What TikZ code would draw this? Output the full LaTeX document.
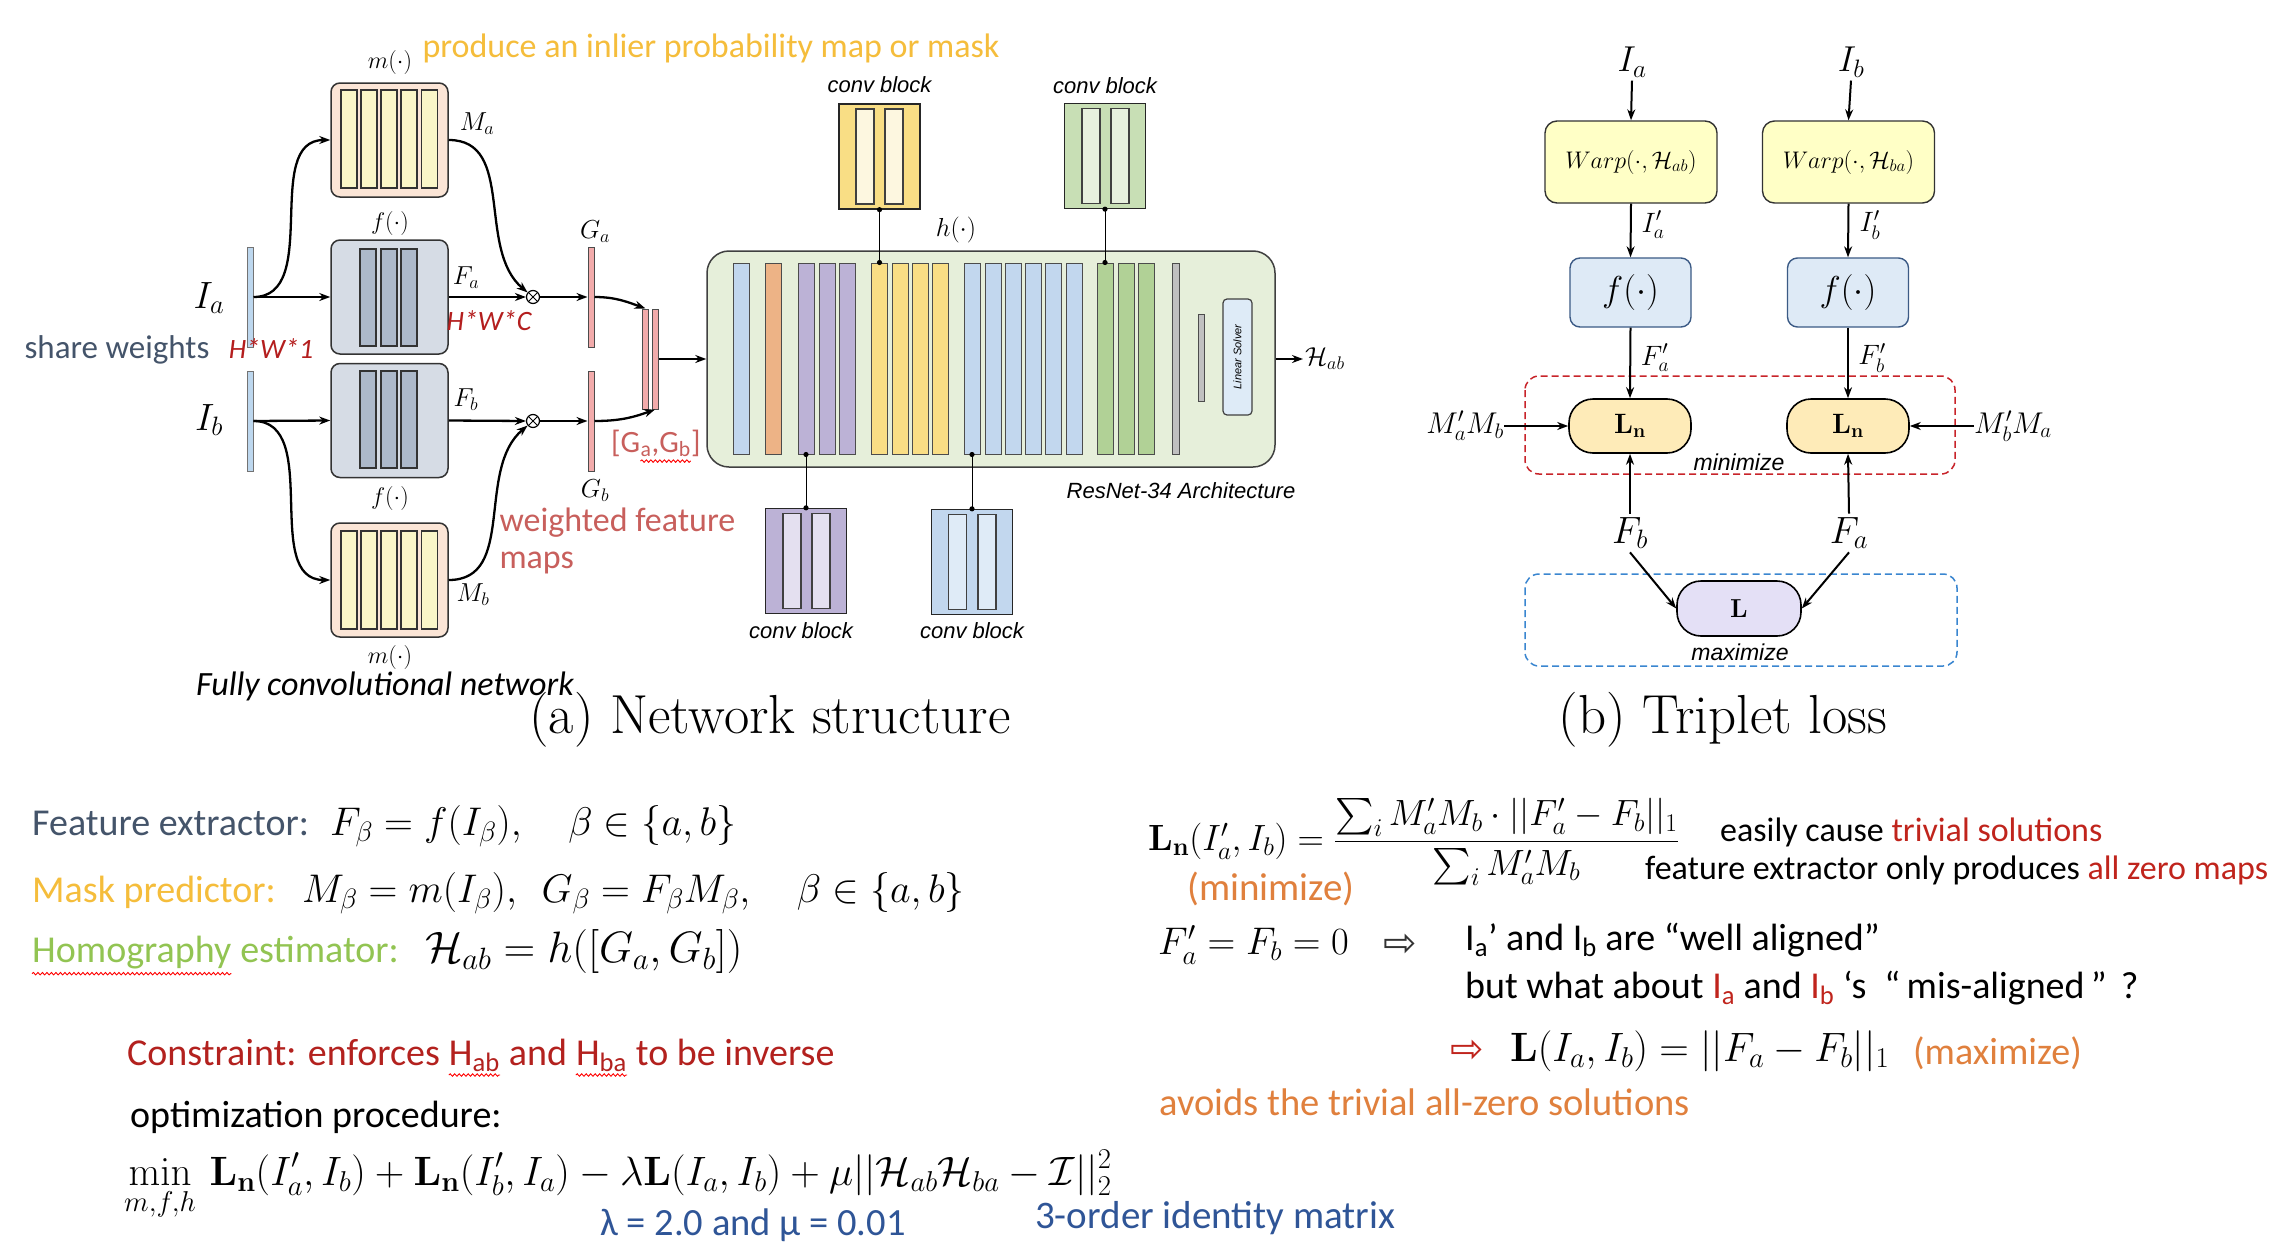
\RequirePackage{fix-cm}
\documentclass[tikz,border=0pt]{standalone}
\usepackage{amsmath,amssymb}
\usepackage[no-math]{fontspec}
\setmainfont{Carlito}
\newfontfamily\helv{Liberation Sans}
\newfontfamily\lmr{Latin Modern Roman}
\newfontfamily\dejavu{DejaVu Sans}
\usetikzlibrary{arrows.meta,decorations.pathmorphing,calc}
\newcommand\fsz[1]{\fontsize{#1}{#1}\selectfont}
\definecolor{slate}{HTML}{44546A}
\definecolor{gold}{HTML}{F5BD3B}
\definecolor{hgreen}{HTML}{92C452}
\definecolor{dred}{HTML}{B3211E}
\definecolor{tred}{HTML}{C0241C}
\definecolor{pinkred}{HTML}{C85F5C}
\definecolor{lblue}{HTML}{2F5597}
\definecolor{ora}{HTML}{E0803D}
\definecolor{hwred}{HTML}{B41E1E}
\definecolor{peach}{HTML}{FBE5D6}
\definecolor{mbar}{HTML}{FAF6C8}
\definecolor{fboxc}{HTML}{D6DCE5}
\definecolor{fbar}{HTML}{ADB9CA}
\definecolor{inbar}{HTML}{BDD7EE}
\definecolor{gbar}{HTML}{F2ABAB}
\definecolor{resbg}{HTML}{E6EFDA}
\definecolor{cblue}{HTML}{C2D7EE}
\definecolor{corange}{HTML}{EDB386}
\definecolor{cpurple}{HTML}{BCB2D6}
\definecolor{cyellow}{HTML}{F9DE85}
\definecolor{cgreen}{HTML}{B1D196}
\definecolor{cgray}{HTML}{C0C0C0}
\definecolor{lsolv}{HTML}{DEEBF7}
\definecolor{cyinner}{HTML}{FDF7E0}
\definecolor{cginner}{HTML}{E7F0DE}
\definecolor{cpinner}{HTML}{E4E0F0}
\definecolor{cbinner}{HTML}{DFEBF7}
\definecolor{warpc}{HTML}{FFFFC6}
\definecolor{fblue}{HTML}{DEEAF6}
\definecolor{fborder}{HTML}{3B5A85}
\definecolor{lnfill}{HTML}{FEEBB8}
\definecolor{lfill}{HTML}{E4E0F6}
\definecolor{dashred}{HTML}{C8242A}
\definecolor{dashblue}{HTML}{3A86D0}
\begin{document}
\begin{tikzpicture}[x=1pt,y=-1pt,
  arr/.style={line width=2.3pt,-{Stealth[length=11pt,width=8pt]}},
  tarr/.style={line width=2pt,-{Stealth[length=11pt,width=8pt]}},
  bigbox/.style={draw=black!80,line width=1.5pt,rounded corners=9pt,minimum width=117pt,minimum height=114pt,inner sep=0pt},
  mbarS/.style={draw=black!80,line width=1.2pt,fill=mbar,minimum width=16pt,minimum height=98pt,inner sep=0pt},
  fbarS/.style={draw=black!80,line width=1.2pt,fill=fbar,minimum width=16pt,minimum height=97pt,inner sep=0pt},
  thinbar/.style={line width=1pt,minimum width=6pt,minimum height=100pt,inner sep=0pt},
  rbar/.style={draw=black!70,line width=1pt,minimum width=16pt,minimum height=191pt,inner sep=0pt},
  cbox/.style={draw=black!85,line width=1.3pt,minimum width=81pt,minimum height=105pt,inner sep=0pt},
  cin/.style={draw=black!75,line width=1.1pt,minimum width=18pt,minimum height=95pt,inner sep=0pt},
  cblab/.style={font=\helv\itshape\fsz{22}},
  otimes/.style={circle,draw,line width=1.2pt,minimum size=13pt,inner sep=0pt,path picture={\draw[line width=1pt] (path picture bounding box.north west)--(path picture bounding box.south east) (path picture bounding box.north east)--(path picture bounding box.south west);}},
  conn/.style={line width=1pt},
  lab/.style={inner sep=1pt},
  chain/.style={anchor=base west,inner sep=0pt},
  wavy/.style={red,line width=0.9pt,decorate,decoration={snake,amplitude=1.2pt,segment length=4.5pt}}
]
\useasboundingbox (0,0) rectangle (2270,1242);
\fill[white] (0,0) rectangle (2270,1242);

% ================= (a) left part =================
\node[anchor=west,font=\fsz{34},text=gold] (prod) at (419,48) {produce an inlier probability map or mask};

\node[bigbox,fill=peach] (ma) at (389.5,140) {};
\foreach \i/\x in {1/349,2/369,3/389,4/409,5/429.5} \node[mbarS] (ma\i) at (\x,139) {};
\node[bigbox,fill=fboxc] (fa) at (389.5,297) {};
\foreach \i/\x in {1/368,2/389,3/409} \node[fbarS] (fa\i) at (\x,297.5) {};
\node[bigbox,fill=fboxc] (fb) at (389.5,420.5) {};
\foreach \i/\x in {1/368,2/389,3/409} \node[fbarS] (fb\i) at (\x,419.5) {};
\node[bigbox,fill=peach] (mb) at (389.5,580) {};
\foreach \i/\x in {1/349,2/369,3/389,4/409,5/429.5} \node[mbarS] (mb\i) at (\x,580) {};

\node[lab,font=\fsz{24}] (lm1) at (390,62) {$m(\cdot)$};
\node[lab,font=\fsz{24}] (lf1) at (390,223) {$f(\cdot)$};
\node[lab,font=\fsz{24}] (lf2) at (390,498) {$f(\cdot)$};
\node[lab,font=\fsz{24}] (lm2) at (390,657) {$m(\cdot)$};
\node[lab,font=\fsz{26}] (lMa) at (477,124) {$M_a$};
\node[lab,font=\fsz{26}] (lFa) at (466,278) {$F_a$};
\node[lab,font=\fsz{26}] (lFb) at (466,400) {$F_b$};
\node[lab,font=\fsz{26}] (lMb) at (473,595) {$M_b$};

\node[thinbar,draw=black!55,fill=inbar] (ia) at (250,297) {};
\node[thinbar,draw=black!55,fill=inbar] (ib) at (250,421) {};
\node[lab,font=\fsz{38}] (lIa) at (209,298) {$I_a$};
\node[lab,font=\fsz{38}] (lIb) at (209,420) {$I_b$};
\node[font=\fsz{33},text=slate] (share) at (117,350) {share weights};
\node[font=\itshape\fsz{28},text=hwred] (hw1) at (271,349) {H*W*1};
\node[font=\itshape\fsz{28},text=hwred] (hwc) at (489,321) {H*W*C};

\node[otimes] (oa) at (533,297) {};
\node[otimes] (ob) at (533,421) {};
\node[thinbar,draw=black!70,fill=gbar] (ga) at (591,297) {};
\node[thinbar,draw=black!70,fill=gbar] (gb) at (591,421) {};
\node[lab,font=\fsz{26}] (lGa) at (595,232) {$G_a$};
\node[lab,font=\fsz{26}] (lGb) at (595,491) {$G_b$};
\node[thinbar,draw=black!70,fill=gbar] (c1) at (645.5,359) {};
\node[thinbar,draw=black!70,fill=gbar] (c2) at (655,359) {};
\node[anchor=west,font=\fsz{31},text=pinkred,inner sep=0pt] (gg1) at (611,443) {[G};
\node[chain,font=\fsz{31},text=pinkred] (gg2) at (gg1.base east) {\textsubscript{a},G\textsubscript{b}};
\node[chain,font=\fsz{31},text=pinkred] (gg3) at (gg2.base east) {]};
\draw[wavy] ([yshift=-4pt]gg2.south west) -- ([yshift=-4pt]gg2.south east);
\node[anchor=west,font=\fsz{34},text=pinkred] (wf1) at (496,523) {weighted feature};
\node[anchor=west,font=\fsz{34},text=pinkred] (wf2) at (496,563) {maps};
\node[font=\itshape\fsz{34}] (fcn) at (385,686) {Fully convolutional network};

\draw[arr] (ia.east) -- (fa.west);
\draw[arr] (ib.east) -- (fb.west);
\draw[arr] (ia.east) to[out=0,in=180] (ma.west);
\draw[arr] (ib.east) to[out=0,in=180] (mb.west);
\draw[arr] (fa.east) -- (oa.west);
\draw[arr] (fb.east) -- (ob.west);
\draw[arr] (ma.east) to[out=0,in=140] (oa);
\draw[arr] (mb.east) to[out=0,in=220] (ob);
\draw[arr] (oa.east) -- (ga.west);
\draw[arr] (ob.east) -- (gb.west);
\draw[arr] (ga.east) to[out=0,in=160] (c1.north);
\draw[arr] (gb.east) to[out=0,in=200] (c2.south);

% ================= ResNet =================
\node[draw=black!75,line width=1.5pt,fill=resbg,rounded corners=22pt,minimum width=568pt,minimum height=216pt,inner sep=0pt] (res) at (991,359) {};
\foreach \n/\x/\c in {b1/741/cblue,o1/773/corange,p1/806/cpurple,p2/827/cpurple,p3/847/cpurple,y1/879.5/cyellow,y2/900/cyellow,y3/920/cyellow,y4/940/cyellow,u1/972/cblue,u2/993/cblue,u3/1013/cblue,u4/1033/cblue,u5/1053/cblue,u6/1074/cblue,g1/1105/cgreen,g2/1126/cgreen,g3/1146/cgreen}
  \node[rbar,fill=\c] (\n) at (\x,358.5) {};
\node[rbar,fill=cgray,minimum width=7pt] (gr1) at (1175.5,358.5) {};
\node[rbar,fill=cgray,minimum width=6pt,minimum height=87pt] (gr2) at (1201,357.5) {};
\node[draw=black!75,line width=1.2pt,fill=lsolv,rounded corners=4pt,minimum width=29pt,minimum height=116pt,inner sep=0pt] (ls) at (1237.5,357) {};
\node[rotate=90,font=\helv\itshape\fsz{11}] (lstext) at (ls) {Linear Solver};
\node[lab,font=\fsz{26}] (lh) at (956,230) {$h(\cdot)$};
\node[font=\helv\itshape\fsz{22}] (resname) at (1181,491) {ResNet-34 Architecture};

\node[cbox,fill=cyellow] (cy) at (879.5,156.5) {};
\node[cin,fill=cyinner] (cy1) at (865,156.5) {};
\node[cin,fill=cyinner] (cy2) at (894,156.5) {};
\node[cblab] (lcy) at (879.5,85) {conv block};
\node[cbox,fill=cgreen!70!white] (cg) at (1105,156) {};
\node[cin,fill=cginner] (cg1) at (1091,156) {};
\node[cin,fill=cginner] (cg2) at (1120,156) {};
\node[cblab] (lcg) at (1105,86) {conv block};
\node[cbox,fill=cpurple] (cp) at (806,561) {};
\node[cin,fill=cpinner] (cp1) at (792,561) {};
\node[cin,fill=cpinner] (cp2) at (821,561) {};
\node[cblab] (lcp) at (801,631) {conv block};
\node[cbox,fill=cblue] (cb) at (972,562) {};
\node[cin,fill=cbinner] (cb1) at (957.5,562) {};
\node[cin,fill=cbinner] (cb2) at (987,562) {};
\node[cblab] (lcb) at (972,631) {conv block};

\draw[conn] (cy.south) -- (y1.north);
\draw[conn] (cg.south) -- (g1.north);
\draw[conn] (p1.south) -- (cp.north);
\draw[conn] (u1.south) -- (cb.north);
\foreach \a in {cy.south,y1.north,cg.south,g1.north,p1.south,cp.north,u1.south,cb.north} \fill (\a) circle (2.6pt);

\draw[arr] (c2.east) -- (res.west);
\node[anchor=west,font=\fsz{26},inner sep=2pt] (hab) at (1303,359) {$\mathcal{H}_{ab}$};
\draw[arr] (res.east) -- (hab.west);

\node[font=\lmr\fsz{55}] (capa) at (770,720) {(a) Network structure};

% ================= (b) triplet =================
\node[font=\fsz{36}] (tIa) at (1632,62) {$I_a$};
\node[font=\fsz{36}] (tIb) at (1851,62) {$I_b$};
\node[draw=black!80,line width=1.4pt,fill=warpc,rounded corners=12pt,minimum width=172pt,minimum height=82pt,font=\fsz{24}] (wa) at (1631,162) {$Warp(\cdot,\mathcal{H}_{ab})$};
\node[draw=black!80,line width=1.4pt,fill=warpc,rounded corners=12pt,minimum width=172pt,minimum height=82pt,font=\fsz{24}] (wb) at (1848.5,162) {$Warp(\cdot,\mathcal{H}_{ba})$};
\node[draw=fborder,line width=1.4pt,fill=fblue,rounded corners=10pt,minimum width=121pt,minimum height=69pt,font=\fsz{36}] (tfa) at (1630.5,292.5) {$f(\cdot)$};
\node[draw=fborder,line width=1.4pt,fill=fblue,rounded corners=10pt,minimum width=121pt,minimum height=69pt,font=\fsz{36}] (tfb) at (1848,292.5) {$f(\cdot)$};
\draw[dashred,line width=1.5pt,dash pattern=on 7pt off 4pt,rounded corners=14pt] (1525,376) rectangle (1955,474);
\draw[dashblue,line width=1.5pt,dash pattern=on 7pt off 4pt,rounded corners=14pt] (1525,574) rectangle (1957,666);
\node[draw=black,line width=1.6pt,fill=lnfill,rounded corners=24pt,minimum width=122pt,minimum height=54pt,font=\fsz{28}] (lna) at (1630,426) {$\mathbf{L_n}$};
\node[draw=black,line width=1.6pt,fill=lnfill,rounded corners=24pt,minimum width=122pt,minimum height=54pt,font=\fsz{28}] (lnb) at (1848,426) {$\mathbf{L_n}$};
\node[draw=black,line width=1.6pt,fill=lfill,rounded corners=24pt,minimum width=124pt,minimum height=55pt,font=\fsz{26}] (tl) at (1739,608.5) {$\mathbf{L}$};
\node[anchor=east,font=\fsz{30},inner sep=0pt] (mab) at (1504,426) {$M'_aM_b$};
\node[anchor=west,font=\fsz{30},inner sep=0pt] (mba) at (1974,426) {$M'_bM_a$};
\node[font=\helv\itshape\fsz{23}] (minz) at (1739,462) {minimize};
\node[font=\helv\itshape\fsz{23}] (maxz) at (1740,652) {maximize};
\node[font=\fsz{38}] (tFb) at (1630,533) {$F_b$};
\node[font=\fsz{38}] (tFa) at (1849,533) {$F_a$};
\node[font=\fsz{28}] (lIpa) at (1653,225) {$I'_a$};
\node[font=\fsz{28}] (lIpb) at (1870,225) {$I'_b$};
\node[font=\fsz{28}] (lFpa) at (1655,358) {$F'_a$};
\node[font=\fsz{28}] (lFpb) at (1872,358) {$F'_b$};

\draw[tarr] (tIa.south) -- (wa.north);
\draw[tarr] (tIb.south) -- (wb.north);
\draw[tarr] (wa.south) -- (tfa.north);
\draw[tarr] (wb.south) -- (tfb.north);
\draw[tarr] (tfa.south) -- (lna.north);
\draw[tarr] (tfb.south) -- (lnb.north);
\draw[tarr] (mab.east) -- (lna.west);
\draw[tarr] (mba.west) -- (lnb.east);
\draw[tarr] (tFb.north) -- (lna.south);
\draw[tarr] (tFa.north) -- (lnb.south);
\draw[tarr] (tFb.south) -- (tl.west);
\draw[tarr] (tFa.south) -- (tl.east);

\node[font=\lmr\fsz{55}] (capb) at (1723,720) {(b) Triplet loss};

% ================= bottom left text =================
\node[anchor=west,font=\fsz{38},text=slate,inner sep=0pt] (t1) at (32,823) {Feature extractor:};
\node[chain,font=\fsz{40}] (m1) at ([xshift=298pt]t1.base west) {$F_\beta = f(I_\beta),\quad \beta\in\{a,b\}$};
\node[anchor=west,font=\fsz{38},text=gold,inner sep=0pt] (t2) at (32,892) {Mask predictor:};
\node[chain,font=\fsz{40}] (m2) at ([xshift=270pt]t2.base west) {$M_\beta = m(I_\beta),\ \ G_\beta=F_\beta M_\beta,\quad \beta\in\{a,b\}$};
\node[anchor=west,font=\fsz{38},text=hgreen,inner sep=0pt] (t3) at (32,953) {Homography};
\node[chain,font=\fsz{38},text=hgreen] (t3b) at (t3.base east) {\ estimator:};
\node[chain,font=\fsz{44}] (m3) at ([xshift=393pt]t3.base west) {$\mathcal{H}_{ab}=h([G_a,G_b])$};
\draw[wavy] ([yshift=-4pt]t3.south west) -- ([yshift=-4pt]t3.south east);

\node[anchor=west,font=\fsz{38},text=dred,inner sep=0pt] (k1) at (127,1053) {Constraint: enforces\ \mbox{}};
\node[chain,font=\fsz{38},text=dred] (k2) at (k1.base east) {H\textsubscript{ab}};
\node[chain,font=\fsz{38},text=dred] (k3) at (k2.base east) {\ and\ \mbox{}};
\node[chain,font=\fsz{38},text=dred] (k4) at (k3.base east) {H\textsubscript{ba}};
\node[chain,font=\fsz{38},text=dred] (k5) at (k4.base east) {\ to be inverse};
\draw[wavy] ([yshift=-3pt]k2.south west) -- ([yshift=-3pt]k2.south east);
\draw[wavy] ([yshift=-3pt]k4.south west) -- ([yshift=-3pt]k4.south east);

\node[anchor=west,font=\fsz{38},inner sep=0pt] (t5) at (130,1117) {optimization procedure:};
\node[anchor=base west,font=\fsz{41},inner sep=0pt] (t6) at (124,1185) {$\displaystyle\min_{m,f,h}\,\mathbf{L_n}(I'_a,I_b)+\mathbf{L_n}(I'_b,I_a)-\lambda\mathbf{L}(I_a,I_b)+\mu||\mathcal{H}_{ab}\mathcal{H}_{ba}-\mathcal{I}||_2^2$};
\node[anchor=west,font=\fsz{38.5},text=lblue,inner sep=0pt] (t7) at (600,1225) {λ = 2.0 and μ = 0.01};
\node[anchor=west,font=\fsz{39},text=lblue,inner sep=0pt] (t8) at (1035,1218) {3-order identity matrix};

% ================= bottom right text =================
\node[anchor=west,font=\fsz{36.5},inner sep=0pt] (r1) at (1148,842) {$\mathbf{L_n}(I'_a,I_b)=\dfrac{\sum_i M'_aM_b\cdot||F'_a-F_b||_1}{\sum_i M'_aM_b}$};
\node[anchor=west,font=\fsz{39},text=ora,inner sep=0pt] (r2) at (1187,889) {(minimize)};
\node[anchor=west,font=\fsz{34},inner sep=0pt] (r3) at (1720,832) {easily cause \textcolor{tred}{trivial solutions}};
\node[anchor=west,font=\fsz{34},inner sep=0pt] (r4) at (1645,870) {feature extractor only produces \textcolor{tred}{all zero maps}};
\node[anchor=west,font=\fsz{38.5},inner sep=0pt] (r5) at (1158,945) {$F'_a=F_b=0$};
\node[font=\dejavu\fsz{40},text=black!80,inner sep=0pt] (ar1) at (1400,945) {⇨};
\node[anchor=west,font=\fsz{38},inner sep=0pt] (r6) at (1465,940) {I\textsubscript{a}’ and I\textsubscript{b} are “well aligned”};
\node[anchor=west,font=\fsz{38},inner sep=0pt] (r7) at (1465,988) {but what about \textcolor{tred}{I\textsubscript{a}} and \textcolor{tred}{I\textsubscript{b}} ‘s\hspace{18pt}“\,mis-aligned\,”\hspace{14pt}?};
\node[font=\dejavu\fsz{40},text=tred,inner sep=0pt] (ar2) at (1467,1051) {⇨};
\node[anchor=west,font=\fsz{41},inner sep=0pt] (r8) at (1510,1051) {$\mathbf{L}(I_a,I_b)=||F_a-F_b||_1$};
\node[anchor=west,font=\fsz{38},text=ora,inner sep=0pt] (r9) at (1913,1053) {(maximize)};
\node[anchor=west,font=\fsz{38.5},text=ora,inner sep=0pt] (r10) at (1159,1102) {avoids the trivial all-zero solutions};
\end{tikzpicture}
\end{document}
